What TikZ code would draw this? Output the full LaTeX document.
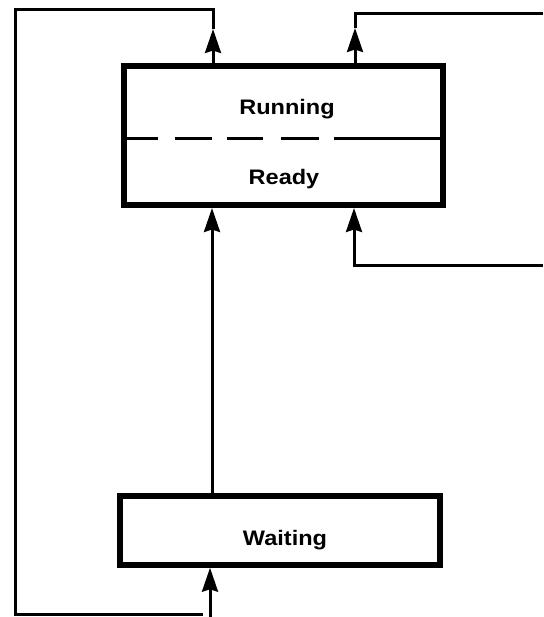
\documentclass[tikz,border=0pt]{standalone}
\usepackage{fontspec}
\newfontfamily\lblfont[FakeStretch=1.12]{Liberation Sans}
\usetikzlibrary{arrows.meta}
\begin{document}
\begin{tikzpicture}[x=1pt,y=-1pt,
  wire/.style={line width=3pt,line join=miter},
  flow/.style={wire,-{Stealth[length=24pt,width=16pt,inset=2.5pt]}},
  statebox/.style={draw,line width=6pt,inner sep=0pt},
  lbl/.style={anchor=base,inner sep=0pt,font=\lblfont\bfseries\fontsize{21}{25}\selectfont}]
\useasboundingbox (0,0) rectangle (543,617);

% state boxes
\node[statebox,minimum width=319pt,minimum height=139pt] (main) at (283.5,135.5) {};
\node[statebox,line width=5.5pt,minimum width=320pt,minimum height=69pt] (wait) at (280,530.5) {};

% divider between the two halves of the upper box
\draw[line width=3.5pt,dash pattern=on 37pt off 17pt on 37pt off 15pt on 36pt off 18pt on 38pt off 15pt on 200pt]
  (main.west |- 0,138.5) -- (main.east |- 0,138.5);

% state names
\node[lbl] (run) at (287,114.5) {Running};
\node[lbl] (rdy) at (284,185) {Ready};
\node[lbl] (wt)  at (285,545.5) {Waiting};

% loop points
\coordinate (la) at (213,29);
\coordinate (lc1) at (213,9.5);
\coordinate (lc2) at (15,9.5);
\coordinate (lc3) at (15,614);
\coordinate (lc4) at (203,614);
\coordinate (ra) at (355,28);
\coordinate (rc1) at (355,14);
\coordinate (rc2) at (543,14);
\coordinate (rb1) at (543,265);
\coordinate (rb2) at (354,265);
\coordinate (in) at (210,617);

% exits from the upper box
\draw[flow] (main.north -| la) -- (la);
\draw[wire] (la) -- (lc1) -- (lc2) -- (lc3) -- (lc4);
\draw[flow] (main.north -| ra) -- (ra);
\draw[wire] (ra) -- (rc1) -- (rc2);

% entries into the upper box
\draw[flow] (rb1) -- (rb2) -- (main.south -| rb2);
\draw[flow] (wait.north -| 212,0) -- (main.south -| 212,0);

% entry into the waiting box
\draw[flow] (in) -- (wait.south -| in);
\end{tikzpicture}
\end{document}
